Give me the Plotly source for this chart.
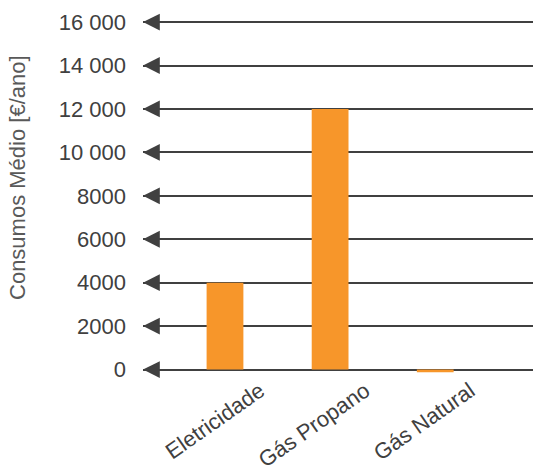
import plotly.graph_objects as go

categories = ["Eletricidade", "Gás Propano", "Gás Natural"]
values = [4000, 12000, -120]
tick_vals = [0, 2000, 4000, 6000, 8000, 10000, 12000, 14000, 16000]
tick_text = ["0", "2000", "4000", "6000", "8000", "10 000", "12 000", "14 000", "16 000"]
y_title = "Consumos Médio [€/ano]"

BAR = "#F7962A"
LINE = "#404040"
FONT = "Liberation Sans, Arial, sans-serif"

x_range = [-0.78, 2.93]
y_range = [-160, 16050]

fig = go.Figure()
fig.add_trace(go.Bar(x=categories, y=values, marker=dict(color=BAR, line=dict(width=0)),
                     width=0.35, hoverinfo="skip"))

for v in tick_vals:
    fig.add_annotation(x=x_range[0], y=v, xref="x", yref="y",
                       ax=x_range[0] + 0.15, ay=v, axref="x", ayref="y",
                       showarrow=True, arrowhead=2, arrowsize=1.4, arrowwidth=2.4,
                       arrowcolor=LINE, text="")

fig.add_annotation(text=y_title, xref="paper", yref="paper", x=0, y=0.554,
                   xshift=-125, xanchor="center", yanchor="middle", textangle=-90,
                   showarrow=False, font=dict(size=22, color="#595959"))

fig.update_layout(
    width=533, height=472,
    margin=dict(l=143, r=0, t=21, b=96.5),
    paper_bgcolor="white", plot_bgcolor="white",
    showlegend=False,
    font=dict(family=FONT, color=LINE, size=22),
    xaxis=dict(type="category", range=x_range, showgrid=False, zeroline=False,
               showline=False, tickangle=-35, ticklabelshift=35,
               tickfont=dict(size=22, color=LINE)),
    yaxis=dict(range=y_range, tickvals=tick_vals, ticktext=tick_text,
               showgrid=True, gridcolor=LINE, gridwidth=2.4, zeroline=False,
               showline=False, ticklabelstandoff=16,
               tickfont=dict(size=22, color=LINE)),
)

fig.write_html("out.html")
